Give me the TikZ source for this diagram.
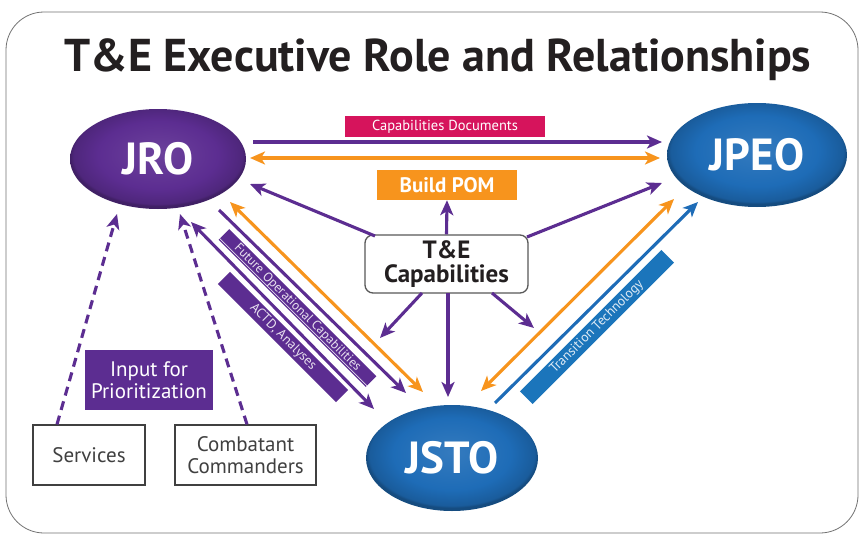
\documentclass[tikz,border=0pt]{standalone}
\usepackage{fontspec}
\setmainfont{PT Sans}
\usetikzlibrary{arrows.meta,shapes.geometric,calc}
\definecolor{jpurple}{HTML}{5C2D91}
\definecolor{jorange}{HTML}{F7941D}
\definecolor{jblue}{HTML}{1E6CB7}
\definecolor{jband}{HTML}{1B75BB}
\definecolor{jcrimson}{HTML}{D6145C}
\definecolor{jtext}{HTML}{231F20}
\pgfdeclareradialshading{purpleoval}{\pgfpoint{0bp}{3bp}}{color(0bp)=(jpurple!90!white); color(17bp)=(jpurple); color(24bp)=(jpurple!85!black); color(25bp)=(jpurple!70!black); color(50bp)=(jpurple!70!black)}
\pgfdeclareradialshading{blueoval}{\pgfpoint{0bp}{3bp}}{color(0bp)=(jblue!90!white); color(17bp)=(jblue); color(24bp)=(jblue!85!black); color(25bp)=(jblue!70!black); color(50bp)=(jblue!70!black)}
\tikzset{jtip/.tip={Stealth[length=15pt,width=13pt,inset=4pt]}}
\begin{document}
\begin{tikzpicture}[x=1pt,y=-1pt,
  ln/.style={line width=3.1pt},
  arr/.style={ln,-jtip},
  darr/.style={ln,jtip-jtip},
  oval/.style={ellipse, inner sep=0pt, text=white, font=\bfseries\fontsize{45}{45}\selectfont},
  plainbox/.style={draw=black!75, line width=1.3pt, fill=white, text=black!75, font=\fontsize{21}{22}\selectfont, align=center, inner sep=0pt},
  band/.style={inner sep=0pt, font=\fontsize{13}{13}\selectfont, text=white},
  dashline/.style={ln, jpurple, dash pattern=on 9pt off 6pt, -jtip}
]
\useasboundingbox (0,0) rectangle (861,535);
\fill[white] (0,0) rectangle (861,535);
\draw[black!55, line width=0.8pt, rounded corners=38pt] (6,12) rectangle (858,533);

\node[font=\bfseries\fontsize{46}{46}\selectfont, text=jtext] (title) at (438,60) {T\&E Executive Role and Relationships};

\node[oval, shading=purpleoval, minimum width=176pt, minimum height=100pt] (jro) at (158,159) {JRO};
\node[oval, shading=blueoval, minimum width=180pt, minimum height=104pt] (jpeo) at (757,155) {JPEO};
\node[oval, shading=blueoval, minimum width=172pt, minimum height=106pt] (jsto) at (452,458) {JSTO};

\node[fill=jcrimson, minimum width=200pt, minimum height=21pt, text=white, font=\fontsize{14.5}{15}\selectfont, inner sep=0pt] (capdoc) at (445,126.5) {Capabilities Documents};
\node[fill=jorange, minimum width=140pt, minimum height=30pt, text=white, font=\bfseries\fontsize{21}{22}\selectfont, inner sep=0pt] (pom) at (447,185) {Build POM};
\node[draw=black!65, line width=1.3pt, rounded corners=8pt, fill=white, minimum width=163pt, minimum height=58pt, align=center, font=\bfseries\fontsize{25}{24}\selectfont, text=jtext, inner sep=0pt] (tec) at (446.5,264) {T\&E\\Capabilities};
\node[fill=jpurple, minimum width=128pt, minimum height=60pt, text=white, align=center, font=\fontsize{21}{22}\selectfont, inner sep=0pt] (input) at (149,380) {Input for\\Prioritization};
\node[plainbox, minimum width=112pt, minimum height=60pt] (serv) at (89,455) {Services};
\node[plainbox, minimum width=141pt, minimum height=60pt] (cc) at (245.5,455) {Combatant\\Commanders};

\node[band, fill=jpurple, minimum width=208pt, minimum height=15pt, rotate=-45, text=white!85!jpurple] (fut) at (297.5,308) {Future Operational Capabilities};
\draw[white, line width=0.6pt] ($(fut.south west)!0.12!(fut.north west)$) -- ($(fut.south east)!0.12!(fut.north east)$);
\node[band, fill=jpurple, minimum width=167pt, minimum height=17pt, rotate=-45, text=white!85!jpurple, font=\fontsize{13.5}{14}\selectfont] (actd) at (283,337) {ACTD, Analyses};
\node[band, fill=jband, minimum width=200pt, minimum height=18pt, rotate=45, font=\fontsize{13.5}{14}\selectfont, text=white!85!jband] (trans) at (597,327) {Transition Technology};

% connector end points
\coordinate (jroA) at (253,142); \coordinate (jpeoA) at (662,142);
\coordinate (jroB) at (250,158); \coordinate (jpeoB) at (660,158);
\coordinate (tecL) at (375,236); \coordinate (jroC) at (250,184);
\coordinate (tecR) at (527,237); \coordinate (jpeoC) at (662,183);
\coordinate (tecB) at (448,293); \coordinate (jstoT) at (448,397);
\coordinate (tecBL) at (422,293); \coordinate (freeL) at (380,338);
\coordinate (tecBR) at (492,293); \coordinate (freeR) at (534,328);
\coordinate (jroD) at (219,210); \coordinate (jstoD) at (406,393);
\coordinate (jroE) at (230,202); \coordinate (jstoE) at (423,392);
\coordinate (jroF) at (191,222); \coordinate (jstoF) at (374,409);
\coordinate (jstoG) at (481,391); \coordinate (jpeoG) at (674,199);
\coordinate (jstoH) at (495,403); \coordinate (jpeoH) at (698,202);
\coordinate (jroS) at (117,214); \coordinate (jroK) at (180,214);

\draw[arr, jpurple] (jroA) -- (jpeoA);
\draw[darr, jorange] (jroB) -- (jpeoB);
\draw[arr, jpurple] (tecL) -- (jroC);
\draw[arr, jpurple] (tecR) -- (jpeoC);
\draw[arr, jpurple] (tec.north) -- (pom.south);
\draw[arr, jpurple] (tecB) -- (jstoT);
\draw[arr, jpurple] (tecBL) -- (freeL);
\draw[arr, jpurple] (tecBR) -- (freeR);
\draw[arr, jpurple] (jroD) -- (jstoD);
\draw[darr, jorange] (jroE) -- (jstoE);
\draw[darr, jpurple] (jroF) -- (jstoF);
\draw[darr, jorange] (jstoG) -- (jpeoG);
\draw[arr, jblue] (jstoH) -- (jpeoH);
\draw[dashline] ([xshift=-32pt]serv.north) -- (jroS);
\draw[dashline] ([xshift=1.5pt]cc.north) -- (jroK);
\end{tikzpicture}
\end{document}
